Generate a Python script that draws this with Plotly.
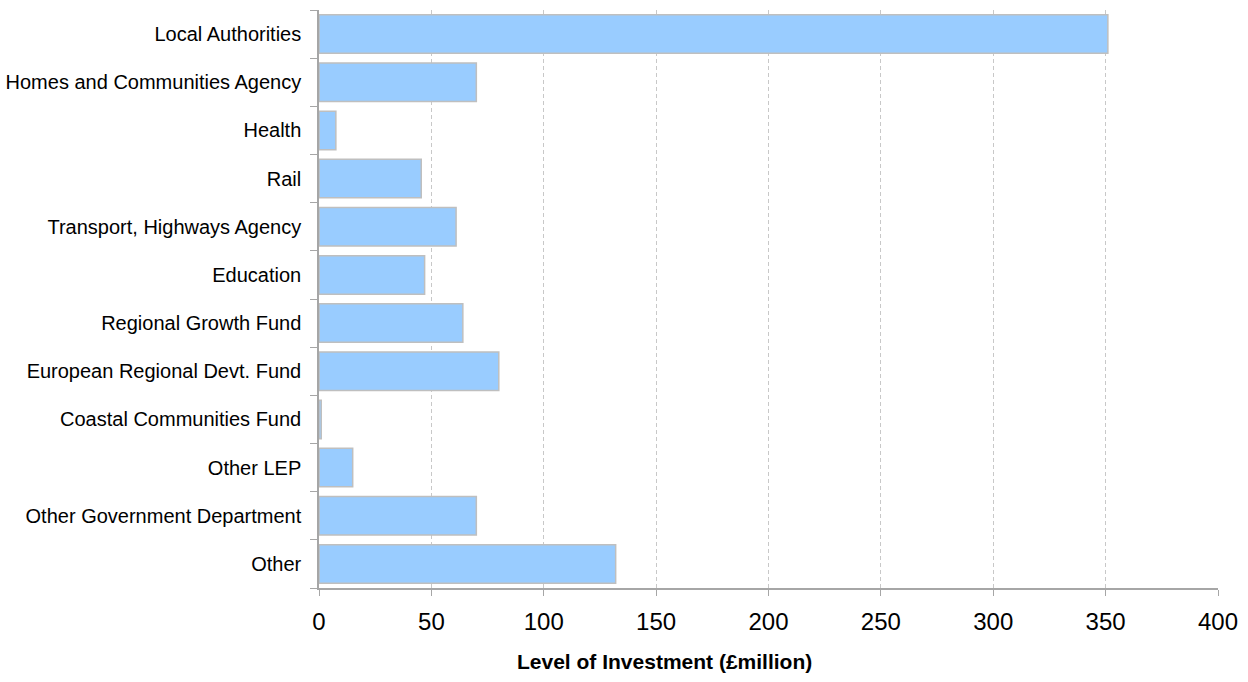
import plotly.graph_objects as go

categories = [
    "Local Authorities",
    "Homes and Communities Agency",
    "Health",
    "Rail",
    "Transport, Highways Agency",
    "Education",
    "Regional Growth Fund",
    "European Regional Devt. Fund",
    "Coastal Communities Fund",
    "Other LEP",
    "Other Government Department",
    "Other",
]
investment = [351, 70, 7.5, 45.5, 61, 47, 64, 80, 1, 15, 70, 132]

x_ticks = [0, 50, 100, 150, 200, 250, 300, 350, 400]
x_title = "Level of Investment (£million)"

fig = go.Figure(
    go.Bar(
        y=categories,
        x=investment,
        orientation="h",
        marker=dict(color="#99CCFF", line=dict(color="#BFBFBF", width=1.5)),
        width=0.8,
    )
)

fig.update_layout(
    width=1248,
    height=682,
    margin=dict(l=319, r=30, t=10, b=94),
    plot_bgcolor="white",
    paper_bgcolor="white",
    showlegend=False,
    font=dict(family="Liberation Sans, Arial, sans-serif", color="#000000"),
)

fig.add_annotation(
    text="<b>" + x_title + "</b>",
    xref="paper",
    yref="paper",
    x=0.384,
    y=-0.128,
    xanchor="center",
    yanchor="middle",
    showarrow=False,
    font=dict(size=21, color="#000000"),
)

fig.update_xaxes(
    automargin=False,
    range=[0, 400],
    tickvals=x_ticks,
    ticktext=[str(v) for v in x_ticks],
    tickfont=dict(size=24),
    showgrid=True,
    gridcolor="#C8C8C8",
    griddash="4px,3px",
    gridwidth=1,
    showline=True,
    linecolor="#A6A6A6",
    linewidth=1.5,
    ticks="outside",
    ticklen=6,
    tickcolor="#A6A6A6",
    zeroline=False,
    ticklabelstandoff=5,
)

fig.update_yaxes(
    automargin=False,
    categoryorder="array",
    categoryarray=categories[::-1],
    autorange=False,
    range=[-0.5, len(categories) - 0.5],
    tickfont=dict(size=20),
    showline=True,
    linecolor="#A6A6A6",
    linewidth=1.5,
    ticks="outside",
    ticklen=7,
    tickcolor="#A6A6A6",
    tickson="boundaries",
    showgrid=False,
    ticklabelstandoff=12,
)

fig.write_html("out.html")
